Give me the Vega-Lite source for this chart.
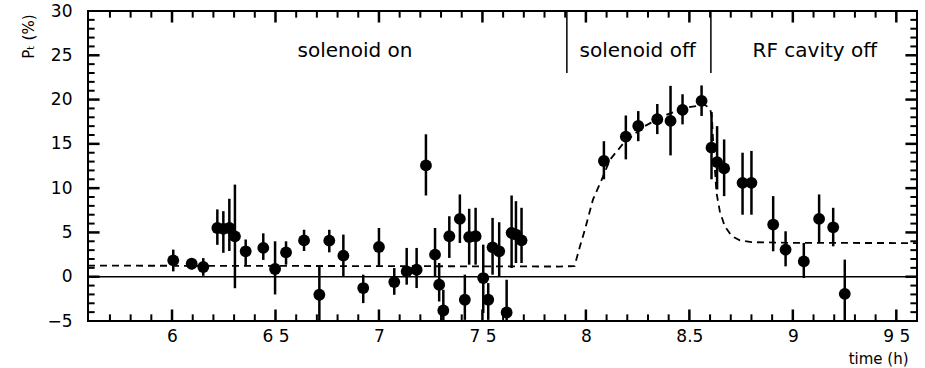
{
  "$schema": "https://vega.github.io/schema/vega-lite/v6.json",
  "width": 829,
  "height": 310,
  "autosize": {"type": "none"},
  "padding": {"left": 88, "top": 11, "right": 8, "bottom": 47},
  "background": "white",
  "config": {
    "view": {"stroke": "black", "strokeWidth": 2},
    "font": "DejaVu Sans"
  },
  "datasets": {
    "pts": [
      {"t": 6.006, "v": 1.85, "lo": 0.6, "hi": 3.06},
      {"t": 6.095, "v": 1.47, "lo": 0.8, "hi": 2.0},
      {"t": 6.151, "v": 1.1, "lo": 0.1, "hi": 2.1},
      {"t": 6.219, "v": 5.5, "lo": 3.6, "hi": 7.6},
      {"t": 6.248, "v": 5.4, "lo": 2.7, "hi": 7.4},
      {"t": 6.277, "v": 5.5, "lo": 2.9, "hi": 8.8},
      {"t": 6.304, "v": 4.56, "lo": -1.3, "hi": 10.4},
      {"t": 6.356, "v": 2.87, "lo": 1.2, "hi": 4.2},
      {"t": 6.441, "v": 3.25, "lo": 1.9, "hi": 4.9},
      {"t": 6.498, "v": 0.87, "lo": -2.0, "hi": 4.0},
      {"t": 6.551, "v": 2.75, "lo": 1.36, "hi": 4.0},
      {"t": 6.638, "v": 4.1, "lo": 2.9, "hi": 5.3},
      {"t": 6.712, "v": -2.04, "lo": -5.5, "hi": 1.17},
      {"t": 6.76, "v": 4.08, "lo": 2.75, "hi": 5.3},
      {"t": 6.828, "v": 2.38, "lo": 0.04, "hi": 4.76},
      {"t": 6.924, "v": -1.28, "lo": -2.98, "hi": 0.23},
      {"t": 7.0, "v": 3.36, "lo": 1.17, "hi": 5.5},
      {"t": 7.074, "v": -0.6, "lo": -2.04, "hi": 0.98},
      {"t": 7.134, "v": 0.6, "lo": -0.9, "hi": 3.25},
      {"t": 7.182, "v": 0.79, "lo": -1.28, "hi": 3.25},
      {"t": 7.227, "v": 12.57, "lo": 9.17, "hi": 16.08},
      {"t": 7.271, "v": 2.49, "lo": 0.04, "hi": 5.5},
      {"t": 7.291, "v": -0.91, "lo": -2.8, "hi": 1.55},
      {"t": 7.311, "v": -3.81, "lo": -5.5, "hi": -1.47},
      {"t": 7.34, "v": 4.57, "lo": 2.12, "hi": 6.83},
      {"t": 7.391, "v": 6.53, "lo": 3.81, "hi": 9.29},
      {"t": 7.415, "v": -2.6, "lo": -4.87, "hi": 0.23},
      {"t": 7.436, "v": 4.49, "lo": 1.36, "hi": 7.67},
      {"t": 7.467, "v": 4.57, "lo": 1.36, "hi": 7.78},
      {"t": 7.504, "v": -0.15, "lo": -4.1, "hi": 3.62},
      {"t": 7.528, "v": -2.6, "lo": -4.87, "hi": -0.72},
      {"t": 7.549, "v": 3.32, "lo": 0.23, "hi": 6.64},
      {"t": 7.581, "v": 2.87, "lo": 0.04, "hi": 6.15},
      {"t": 7.617, "v": -4.04, "lo": -5.5, "hi": -0.34},
      {"t": 7.641, "v": 4.95, "lo": 0.98, "hi": 9.17},
      {"t": 7.662, "v": 4.76, "lo": 1.55, "hi": 8.53},
      {"t": 7.689, "v": 4.11, "lo": 1.55, "hi": 7.78},
      {"t": 8.087, "v": 13.06, "lo": 11.0, "hi": 15.3},
      {"t": 8.193, "v": 15.82, "lo": 13.25, "hi": 18.2},
      {"t": 8.253, "v": 17.02, "lo": 15.3, "hi": 18.7},
      {"t": 8.345, "v": 17.78, "lo": 16.1, "hi": 19.5},
      {"t": 8.409, "v": 17.59, "lo": 13.7, "hi": 21.55},
      {"t": 8.467, "v": 18.83, "lo": 17.2, "hi": 20.6},
      {"t": 8.559, "v": 19.85, "lo": 18.15, "hi": 21.6},
      {"t": 8.607, "v": 14.57, "lo": 11.0, "hi": 18.6},
      {"t": 8.634, "v": 12.94, "lo": 9.85, "hi": 17.0},
      {"t": 8.668, "v": 12.23, "lo": 9.1, "hi": 15.5},
      {"t": 8.757, "v": 10.6, "lo": 7.0, "hi": 14.0},
      {"t": 8.8, "v": 10.6, "lo": 7.0, "hi": 14.2},
      {"t": 8.905, "v": 5.89, "lo": 2.87, "hi": 9.1},
      {"t": 8.965, "v": 3.06, "lo": 1.17, "hi": 5.13},
      {"t": 9.053, "v": 1.73, "lo": -0.15, "hi": 3.81},
      {"t": 9.127, "v": 6.53, "lo": 3.81, "hi": 9.29},
      {"t": 9.195, "v": 5.58, "lo": 3.43, "hi": 7.78},
      {"t": 9.251, "v": -1.93, "lo": -5.5, "hi": 1.93}
    ],
    "curve": [
      {"t": 5.594, "v": 1.25},
      {"t": 7.0, "v": 1.2},
      {"t": 7.87, "v": 1.15},
      {"t": 7.945, "v": 1.2},
      {"t": 7.971, "v": 3.4},
      {"t": 7.995, "v": 5.3},
      {"t": 8.034, "v": 8.7},
      {"t": 8.077, "v": 11.0},
      {"t": 8.116, "v": 13.2},
      {"t": 8.179, "v": 15.0},
      {"t": 8.275, "v": 16.9},
      {"t": 8.391, "v": 18.3},
      {"t": 8.488, "v": 19.1},
      {"t": 8.575, "v": 19.4},
      {"t": 8.6, "v": 19.0},
      {"t": 8.609, "v": 18.0},
      {"t": 8.616, "v": 14.7},
      {"t": 8.631, "v": 9.5},
      {"t": 8.647, "v": 7.4},
      {"t": 8.671, "v": 5.7},
      {"t": 8.704, "v": 4.6},
      {"t": 8.744, "v": 4.1},
      {"t": 8.8, "v": 3.9},
      {"t": 9.0, "v": 3.82},
      {"t": 9.6, "v": 3.8}
    ],
    "zero": [{"v": 0}],
    "vlines": [
      {"t": 7.908, "y1": 23.0, "y2": 30},
      {"t": 8.604, "y1": 23.0, "y2": 30}
    ],
    "labels": [
      {"t": 6.884, "v": 25.5, "label": "solenoid on"},
      {"t": 8.25, "v": 25.5, "label": "solenoid off"},
      {"t": 9.106, "v": 25.5, "label": "RF cavity off"}
    ],
    "xmajor": [{"t": 6}, {"t": 6.5}, {"t": 7}, {"t": 7.5}, {"t": 8}, {"t": 8.5}, {"t": 9}, {"t": 9.5}],
    "xminor": [{"t": 5.7}, {"t": 5.8}, {"t": 5.9}, {"t": 6.1}, {"t": 6.2}, {"t": 6.3}, {"t": 6.4}, {"t": 6.6}, {"t": 6.7}, {"t": 6.8}, {"t": 6.9}, {"t": 7.1}, {"t": 7.2}, {"t": 7.3}, {"t": 7.4}, {"t": 7.6}, {"t": 7.7}, {"t": 7.8}, {"t": 7.9}, {"t": 8.1}, {"t": 8.2}, {"t": 8.3}, {"t": 8.4}, {"t": 8.6}, {"t": 8.7}, {"t": 8.8}, {"t": 8.9}, {"t": 9.1}, {"t": 9.2}, {"t": 9.3}, {"t": 9.4}],
    "ymajor": [{"v": 0}, {"v": 5}, {"v": 10}, {"v": 15}, {"v": 20}, {"v": 25}],
    "yminor": [{"v": -4}, {"v": -3}, {"v": -2}, {"v": -1}, {"v": 1}, {"v": 2}, {"v": 3}, {"v": 4}, {"v": 6}, {"v": 7}, {"v": 8}, {"v": 9}, {"v": 11}, {"v": 12}, {"v": 13}, {"v": 14}, {"v": 16}, {"v": 17}, {"v": 18}, {"v": 19}, {"v": 21}, {"v": 22}, {"v": 23}, {"v": 24}, {"v": 26}, {"v": 27}, {"v": 28}, {"v": 29}]
  },
  "layer": [
    {
      "data": {"name": "zero"},
      "mark": {"type": "rule", "color": "black", "strokeWidth": 1.5},
      "encoding": {
        "y": {"field": "v", "type": "quantitative", "scale": {"domain": [-5, 30], "nice": false, "zero": false}}
      }
    },
    {
      "data": {"name": "curve"},
      "mark": {"type": "line", "color": "black", "strokeWidth": 1.8, "strokeDash": [7, 5]},
      "encoding": {
        "x": {"field": "t", "type": "quantitative", "scale": {"domain": [5.594, 9.6], "nice": false, "zero": false},
          "axis": {"orient": "bottom", "grid": false, "domain": false, "ticks": false, "values": [6, 6.5, 7, 7.5, 8, 8.5, 9, 9.5], "labelPadding": 7, "labelFontSize": 17, "labelFont": "DejaVu Sans", "labelColor": "black",
            "labelExpr": "datum.value == 6.5 ? '6 5' : datum.value == 7.5 ? '7 5' : datum.value == 9.5 ? '9 5' : format(datum.value, '.1~f')",
            "title": "time (h)", "titleColor": "black", "titleFontSize": 15, "titleFontWeight": "normal", "titleAnchor": "end", "titleAlign": "right", "titleX": 820, "titleY": 42, "titleBaseline": "alphabetic"}},
        "y": {"field": "v", "type": "quantitative", "scale": {"domain": [-5, 30], "nice": false, "zero": false},
          "axis": {"orient": "left", "grid": false, "domain": false, "ticks": false, "values": [-5, 0, 5, 10, 15, 20, 25, 30], "labelPadding": 16, "labelFontSize": 17, "labelFont": "DejaVu Sans", "labelColor": "black",
            "title": "Pₜ (%)", "titleColor": "black", "titleFontSize": 15, "titleFontWeight": "normal", "titleAnchor": "end", "titleX": -60, "titleY": 3, "titleAngle": -90, "titleAlign": "right", "titleBaseline": "middle"}}
      }
    },
    {"data": {"name": "xmajor"}, "mark": {"type": "rule", "color": "black", "strokeWidth": 2.5}, "encoding": {"x": {"field": "t", "type": "quantitative"}, "y": {"datum": -5, "type": "quantitative"}, "y2": {"datum": -3.7}}},
    {"data": {"name": "xmajor"}, "mark": {"type": "rule", "color": "black", "strokeWidth": 2.5}, "encoding": {"x": {"field": "t", "type": "quantitative"}, "y": {"datum": 30, "type": "quantitative"}, "y2": {"datum": 28.7}}},
    {"data": {"name": "xminor"}, "mark": {"type": "rule", "color": "black", "strokeWidth": 2}, "encoding": {"x": {"field": "t", "type": "quantitative"}, "y": {"datum": -5, "type": "quantitative"}, "y2": {"datum": -4.25}}},
    {"data": {"name": "xminor"}, "mark": {"type": "rule", "color": "black", "strokeWidth": 2}, "encoding": {"x": {"field": "t", "type": "quantitative"}, "y": {"datum": 30, "type": "quantitative"}, "y2": {"datum": 29.25}}},
    {"data": {"name": "ymajor"}, "mark": {"type": "rule", "color": "black", "strokeWidth": 2.5}, "encoding": {"y": {"field": "v", "type": "quantitative"}, "x": {"datum": 5.594, "type": "quantitative"}, "x2": {"datum": 5.65}}},
    {"data": {"name": "ymajor"}, "mark": {"type": "rule", "color": "black", "strokeWidth": 2.5}, "encoding": {"y": {"field": "v", "type": "quantitative"}, "x": {"datum": 9.6, "type": "quantitative"}, "x2": {"datum": 9.544}}},
    {"data": {"name": "yminor"}, "mark": {"type": "rule", "color": "black", "strokeWidth": 2}, "encoding": {"y": {"field": "v", "type": "quantitative"}, "x": {"datum": 5.594, "type": "quantitative"}, "x2": {"datum": 5.626}}},
    {"data": {"name": "yminor"}, "mark": {"type": "rule", "color": "black", "strokeWidth": 2}, "encoding": {"y": {"field": "v", "type": "quantitative"}, "x": {"datum": 9.6, "type": "quantitative"}, "x2": {"datum": 9.568}}},
    {
      "data": {"name": "pts"},
      "mark": {"type": "rule", "color": "black", "strokeWidth": 2.5, "clip": true},
      "encoding": {
        "x": {"field": "t", "type": "quantitative"},
        "y": {"field": "lo", "type": "quantitative"},
        "y2": {"field": "hi"}
      }
    },
    {
      "data": {"name": "pts"},
      "mark": {"type": "circle", "color": "black", "opacity": 1, "size": 140},
      "encoding": {
        "x": {"field": "t", "type": "quantitative"},
        "y": {"field": "v", "type": "quantitative"}
      }
    },
    {
      "data": {"name": "vlines"},
      "mark": {"type": "rule", "color": "black", "strokeWidth": 1.5},
      "encoding": {
        "x": {"field": "t", "type": "quantitative"},
        "y": {"field": "y1", "type": "quantitative"},
        "y2": {"field": "y2"}
      }
    },
    {
      "data": {"name": "labels"},
      "mark": {"type": "text", "color": "black", "fontSize": 20, "font": "DejaVu Sans", "align": "center", "baseline": "middle"},
      "encoding": {
        "x": {"field": "t", "type": "quantitative"},
        "y": {"field": "v", "type": "quantitative"},
        "text": {"field": "label", "type": "nominal"}
      }
    }
  ]
}
